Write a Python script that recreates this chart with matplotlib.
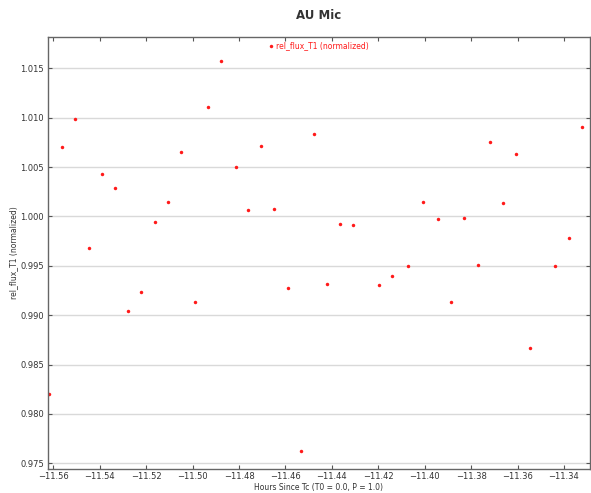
import matplotlib
matplotlib.use("Agg")
import matplotlib.pyplot as plt

# hours since Tc and normalized relative flux
hours = [-11.5617, -11.5564, -11.5505, -11.5446, -11.5392, -11.5335, -11.5277,
         -11.5221, -11.5164, -11.5104, -11.5049, -11.4988, -11.4932, -11.4877,
         -11.4815, -11.4761, -11.4705, -11.4648, -11.4587, -11.4533, -11.4476,
         -11.4419, -11.4364, -11.4310, -11.4195, -11.4140, -11.4074, -11.4007,
         -11.3944, -11.3885, -11.3831, -11.3770, -11.3717, -11.3661, -11.3607,
         -11.3547, -11.3438, -11.3378, -11.3322]
rel_flux = [0.98204, 1.00699, 1.00986, 0.99679, 1.00426, 1.00287, 0.99041,
            0.99237, 0.99942, 1.00148, 1.00652, 0.99132, 1.01105, 1.01574,
            1.00503, 1.00064, 1.00713, 1.00071, 0.99271, 0.97628, 1.00831,
            0.99315, 0.99922, 0.99915, 0.99308, 0.99399, 0.99497, 1.00145,
            0.99973, 0.99133, 0.99983, 0.99510, 1.00753, 1.00132, 1.00635,
            0.98664, 0.99497, 0.99777, 1.00905]

x_ticks = [-11.56, -11.54, -11.52, -11.50, -11.48, -11.46, -11.44, -11.42,
           -11.40, -11.38, -11.36, -11.34]
y_ticks = [0.975, 0.980, 0.985, 0.990, 0.995, 1.000, 1.005, 1.010, 1.015]

fig = plt.figure(figsize=(5.91, 4.93), dpi=100)
ax = fig.add_axes([0.0812, 0.0487, 0.9171, 0.8763])

ax.plot(hours, rel_flux, linestyle='none', marker='o', markersize=2.5,
        color='#ff1a1a', markeredgewidth=0, label='rel_flux_T1 (normalized)')

ax.set_xlim(-11.5623, -11.3288)
ax.set_ylim(0.97442, 1.01817)
ax.set_xticks(x_ticks)
ax.set_xticklabels([f"\u2212{abs(v):.2f}" for v in x_ticks])
ax.set_yticks(y_ticks)
ax.set_yticklabels([f"{v:.3f}" for v in y_ticks])

ax.grid(axis='y', color='#d9d9d9', linewidth=1.0)
ax.set_axisbelow(True)
ax.tick_params(direction='in', length=3, width=0.8, color='#555555',
               labelsize=6, labelcolor='#333333', top=True, right=True)
ax.tick_params(axis='x', pad=2.5)
ax.tick_params(axis='y', pad=3)
for s in ax.spines.values():
    s.set_color('#666666')
    s.set_linewidth(1.0)

ax.set_xlabel('Hours Since Tc (T0 = 0.0, P = 1.0)', fontsize=5.5,
              color='#333333', labelpad=1)
ax.set_ylabel('rel_flux_T1 (normalized)', fontsize=5.5, color='#333333',
              labelpad=1.5)
ax.set_title('AU Mic', fontsize=8.5, fontweight='bold', color='#333333', pad=13)

leg = ax.legend(loc='upper center', frameon=False, fontsize=5.5,
                handlelength=0.6, handletextpad=0.3, borderaxespad=0.2,
                markerscale=1.0)
for t in leg.get_texts():
    t.set_color('#ff1a1a')

fig.savefig('out.png', dpi=100)
